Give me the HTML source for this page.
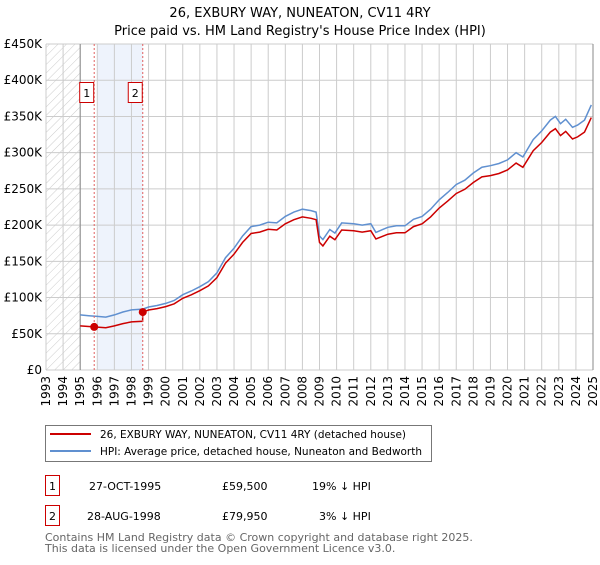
<!DOCTYPE html>
<html><head><meta charset="utf-8">
<style>
body{margin:0;background:#fff;font-family:"Liberation Sans","DejaVu Sans",sans-serif;}
svg text{font-family:"DejaVu Sans","Liberation Sans",sans-serif;}
</style></head>
<body>
<svg id="chart" width="600" height="560" viewBox="0 0 600 560">
<defs>
<pattern id="hatch" patternUnits="userSpaceOnUse" width="6" height="6" patternTransform="rotate(45)">
<line x1="0" y1="0" x2="0" y2="6" stroke="#ccc" stroke-width="1"/>
</pattern>
</defs>
<text x="300" y="17" text-anchor="middle" font-size="13" fill="#000">26, EXBURY WAY, NUNEATON, CV11 4RY</text>
<text x="300" y="35" text-anchor="middle" font-size="13" fill="#000">Price paid vs. HM Land Registry's House Price Index (HPI)</text>
<g id="plot"></g>
<g>
<rect x="45.5" y="425.5" width="386" height="36" fill="#fff" stroke="#777"/>
<line x1="50" y1="434" x2="91" y2="434" stroke="#cc0000" stroke-width="2"/>
<text x="100" y="438" font-size="10.5" textLength="306" lengthAdjust="spacingAndGlyphs">26, EXBURY WAY, NUNEATON, CV11 4RY (detached house)</text>
<line x1="50" y1="451" x2="91" y2="451" stroke="#6090d0" stroke-width="2"/>
<text x="100" y="455" font-size="10.5" textLength="322" lengthAdjust="spacingAndGlyphs">HPI: Average price, detached house, Nuneaton and Bedworth</text>
</g>
<g>
<rect x="45.5" y="475.5" width="14" height="20" fill="#fff" stroke="#cc0000"/>
<text x="52.5" y="490" font-size="11" text-anchor="middle">1</text>
<text x="89" y="490" font-size="11">27-OCT-1995</text>
<text x="222" y="490" font-size="11">£59,500</text>
<text x="312" y="490" font-size="11">19% ↓ HPI</text>
<rect x="45.5" y="505.5" width="14" height="20" fill="#fff" stroke="#cc0000"/>
<text x="52.5" y="520" font-size="11" text-anchor="middle">2</text>
<text x="87" y="520" font-size="11">28-AUG-1998</text>
<text x="222" y="520" font-size="11">£79,950</text>
<text x="319" y="520" font-size="11">3% ↓ HPI</text>
</g>
<text x="45" y="541" font-size="11" fill="#666">Contains HM Land Registry data © Crown copyright and database right 2025.</text>
<text x="45" y="552" font-size="11" fill="#666">This data is licensed under the Open Government Licence v3.0.</text>
</svg>
<script>
const hpiYears=[1995.0,1995.5,1996,1996.5,1997,1997.5,1998,1998.66,1999,1999.5,2000,2000.5,2001,2001.5,2002,2002.5,2003,2003.5,2004,2004.5,2005,2005.5,2006,2006.5,2007,2007.5,2008,2008.5,2008.8,2009.0,2009.2,2009.6,2009.9,2010.3,2011,2011.5,2012,2012.3,2013,2013.5,2014,2014.5,2015,2015.5,2016,2016.5,2017,2017.5,2018,2018.5,2019,2019.5,2020,2020.5,2020.9,2021.5,2022,2022.5,2022.8,2023.1,2023.4,2023.8,2024.1,2024.5,2024.9];
const hpiValues=[76,75,74,73,76,80,83,84,87,89,92,96,104,109,115,122,134,155,168,185,198,200,204,203,212,218,222,220,218,185,180,194,189,203,202,200,202,190,197,199,199,208,212,222,235,245,256,262,272,280,282,285,290,300,294,318,330,345,350,340,346,335,338,345,366];
const saleYears=[1995.82,1998.66];
const salePrices=[59.5,79.95];
const saleLabels=["1","2"];
const yTicks=[0,50,100,150,200,250,300,350,400,450];
const yTickLabels=["£0","£50K","£100K","£150K","£200K","£250K","£300K","£350K","£400K","£450K"];
const xTicks=[1993,1994,1995,1996,1997,1998,1999,2000,2001,2002,2003,2004,2005,2006,2007,2008,2009,2010,2011,2012,2013,2014,2015,2016,2017,2018,2019,2020,2021,2022,2023,2024,2025];

const X0=46,X1=593,Y0=370,Y1=44;
const xs=t=>X0+(t-1993)/(2025-1993)*(X1-X0);
const ys=v=>Y0-v/450*(Y0-Y1);
const NS="http://www.w3.org/2000/svg";
const g=document.getElementById('plot');
function mk(tag,attrs){const e=document.createElementNS(NS,tag);for(const k in attrs)e.setAttribute(k,attrs[k]);g.appendChild(e);return e;}
function hpiAt(t){for(let i=0;i<hpiYears.length-1;i++){if(t<=hpiYears[i+1]){const f=(t-hpiYears[i])/(hpiYears[i+1]-hpiYears[i]);return hpiValues[i]+f*(hpiValues[i+1]-hpiValues[i]);}}return hpiValues[hpiValues.length-1];}

let e=mk('rect',{x:X0,y:Y1,width:X1-X0,height:Y0-Y1,fill:'#fff'});


e=mk('rect',{x:xs(1993),y:Y1,width:xs(1995)-xs(1993),height:Y0-Y1,fill:'url(#hatch)'});


e=mk('rect',{x:xs(1996),y:Y1,width:xs(saleYears[1])-xs(1996),height:Y0-Y1,fill:'#eef3fc'});


xTicks.forEach(t=>{
  const l=mk('line',{x1:xs(t),x2:xs(t),y1:Y1,y2:Y0,stroke:'#ccc','stroke-width':1});
  
  
  const tx=mk('text',{x:0,y:0,'font-size':12,'text-anchor':'end',transform:`translate(${xs(t)+4},${Y0+6}) rotate(-90)`});
  tx.textContent=t;
  
  
});
yTicks.forEach((v,i)=>{
  const l=mk('line',{x1:X0,x2:X1,y1:ys(v),y2:ys(v),stroke:'#ccc','stroke-width':1});
  
  
  const tx=mk('text',{x:X0-4,y:ys(v)+4,'font-size':12,'text-anchor':'end'});
  tx.textContent=yTickLabels[i];
  
  
});
e=mk('line',{x1:xs(1995),x2:xs(1995),y1:Y1,y2:Y0,stroke:'#888','stroke-width':1});


e=mk('line',{x1:X1,x2:X1,y1:Y1,y2:Y0,stroke:'#888','stroke-width':1});



let d=hpiYears.map((t,i)=>(i?'L':'M')+xs(t).toFixed(1)+','+ys(hpiValues[i]).toFixed(1)).join('');
e=mk('path',{d:d,fill:'none',stroke:'#6090d0','stroke-width':1.5});


let pts=[];
hpiYears.forEach(t=>{
  const si=t<saleYears[1]?0:1;
  pts.push([t,salePrices[si]*hpiAt(t)/hpiAt(saleYears[si])]);
});
pts.push([saleYears[1]-0.01,salePrices[0]*hpiAt(saleYears[1])/hpiAt(saleYears[0])]);
pts.push([saleYears[1],salePrices[1]]);
pts.sort((a,b)=>a[0]-b[0]);
d=pts.map((p,i)=>(i?'L':'M')+xs(p[0]).toFixed(1)+','+ys(p[1]).toFixed(1)).join('');
e=mk('path',{d:d,fill:'none',stroke:'#cc0000','stroke-width':1.5});



saleYears.forEach((t,i)=>{
  const l=mk('line',{x1:xs(t),x2:xs(t),y1:Y1,y2:Y0,stroke:'#e06060','stroke-width':1,'stroke-dasharray':'2,2'});
  
  
  const c=mk('circle',{cx:xs(t),cy:ys(salePrices[i]),r:4,fill:'#cc0000'});
  
  
  const r=mk('rect',{x:xs(t)-14.5,y:82.5,width:14,height:20,fill:'#fff',stroke:'#cc0000'});
  
  
  const tx=mk('text',{x:xs(t)-7.5,y:97,'font-size':11,'text-anchor':'middle'});
  tx.textContent=saleLabels[i];
  
  
});
</script>
</body></html>
